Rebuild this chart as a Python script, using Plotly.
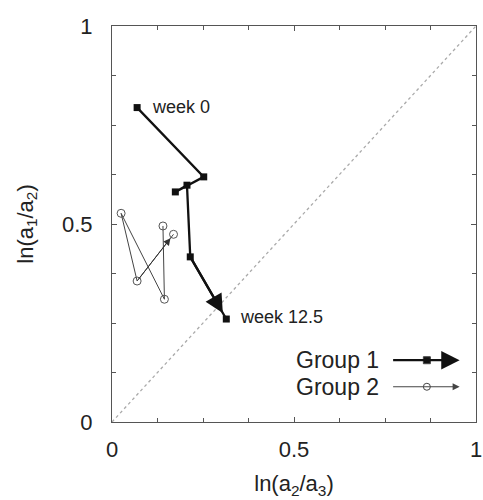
import plotly.graph_objects as go

# Data
g1_x = [0.069, 0.252, 0.174, 0.206, 0.215, 0.314]
g1_y = [0.794, 0.619, 0.581, 0.598, 0.417, 0.260]
g2_x = [0.140, 0.144, 0.025, 0.069, 0.169]
g2_y = [0.495, 0.310, 0.527, 0.356, 0.474]
diag = [0, 1]
major_ticks = [0, 0.5, 1]
major_text = ["0", "0.5", "1"]
minor_ticks = [0.125, 0.25, 0.375, 0.625, 0.75, 0.875]
legend_names = ["Group 1", "Group 2"]

FONT = "Liberation Sans, Arial, Helvetica, sans-serif"
TXT = "#222222"

fig = go.Figure()
fig.add_trace(go.Scatter(x=diag, y=diag, mode="lines",
                         line=dict(color="#aaaaaa", width=1.3, dash="dot"),
                         hoverinfo="skip", showlegend=False))
fig.add_trace(go.Scatter(x=g2_x, y=g2_y, mode="lines+markers",
                         line=dict(color="#444444", width=1),
                         marker=dict(symbol="circle-open", size=8, color="#555555", line=dict(width=1)),
                         showlegend=False))
fig.add_trace(go.Scatter(x=g1_x, y=g1_y, mode="lines+markers",
                         line=dict(color="#111111", width=2.3),
                         marker=dict(symbol="square", size=7, color="#111111"),
                         showlegend=False))

# arrowheads at the end of each trajectory
fig.add_annotation(x=g1_x[-1], y=g1_y[-1], ax=g1_x[-2], ay=g1_y[-2],
                   xref="x", yref="y", axref="x", ayref="y", text="",
                   showarrow=True, arrowhead=2, arrowsize=1.6, arrowwidth=2.3,
                   arrowcolor="#111111", standoff=7)
fig.add_annotation(x=g2_x[-1], y=g2_y[-1], ax=g2_x[-2], ay=g2_y[-2],
                   xref="x", yref="y", axref="x", ayref="y", text="",
                   showarrow=True, arrowhead=2, arrowsize=1.4, arrowwidth=1,
                   arrowcolor="#333333", standoff=5)

# point labels
fig.add_annotation(x=g1_x[0], y=g1_y[0], text="week 0", showarrow=False,
                   xanchor="left", yanchor="middle", xshift=13, yshift=1,
                   font=dict(family=FONT, size=18, color=TXT))
fig.add_annotation(x=g1_x[-1], y=g1_y[-1], text="week 12.5", showarrow=False,
                   xanchor="left", yanchor="middle", xshift=12, yshift=2,
                   font=dict(family=FONT, size=18, color=TXT))

# custom legend (text left of symbol)
leg_y = [0.156, 0.089]
leg_styles = [dict(w=2.3, c="#111111", sym="square", sz=7, hs=1.6),
              dict(w=1, c="#444444", sym="circle-open", sz=7, hs=1.4)]
for name, ly, st in zip(legend_names, leg_y, leg_styles):
    fig.add_annotation(x=0.74, y=ly, xref="paper", yref="paper", text=name,
                       showarrow=False, xanchor="right", yanchor="middle",
                       font=dict(family=FONT, size=23, color=TXT))
    fig.add_annotation(x=0.955, y=ly, xref="paper", yref="paper",
                       ax=-68, ay=0, axref="pixel", ayref="pixel", text="",
                       showarrow=True, arrowhead=2, arrowsize=st["hs"],
                       arrowwidth=st["w"], arrowcolor=st["c"])
    fig.add_trace(go.Scatter(x=[0.865], y=[ly], mode="markers",
                             marker=dict(symbol=st["sym"], size=st["sz"], color=st["c"],
                                         line=dict(width=1)),
                             cliponaxis=False, showlegend=False, hoverinfo="skip"))

axis_common = dict(range=[0, 1], tickvals=major_ticks, ticktext=major_text,
                   ticks="inside", ticklen=5, tickcolor="#555555",
                   minor=dict(tickvals=minor_ticks, ticks="inside", ticklen=4,
                              tickcolor="#555555", showgrid=False),
                   showline=True, linecolor="#555555", linewidth=1, mirror="ticks",
                   showgrid=False, zeroline=False, automargin=False,
                   tickfont=dict(family=FONT, size=22, color=TXT))

fig.update_xaxes(**axis_common, ticklabelstandoff=8,
                 title=dict(text="ln(a<sub>2</sub>/a<sub>3</sub>)", standoff=14,
                            font=dict(family=FONT, size=22, color=TXT)))
fig.update_yaxes(**axis_common, ticklabelstandoff=14,
                 title=dict(text="ln(a<sub>1</sub>/a<sub>2</sub>)", standoff=22,
                            font=dict(family=FONT, size=22, color=TXT)))

fig.update_layout(width=483, height=500,
                  margin=dict(l=112, r=7, t=26, b=78),
                  plot_bgcolor="white", paper_bgcolor="white",
                  showlegend=False)

fig.write_html("out.html", config={"displayModeBar": False})

# remove the default page margin so the figure sits at the window's corner
with open("out.html", "r", encoding="utf-8") as f:
    html = f.read()
html = html.replace("<head>", "<head><style>html,body{margin:0;padding:0;overflow:hidden;}</style>", 1)
with open("out.html", "w", encoding="utf-8") as f:
    f.write(html)
